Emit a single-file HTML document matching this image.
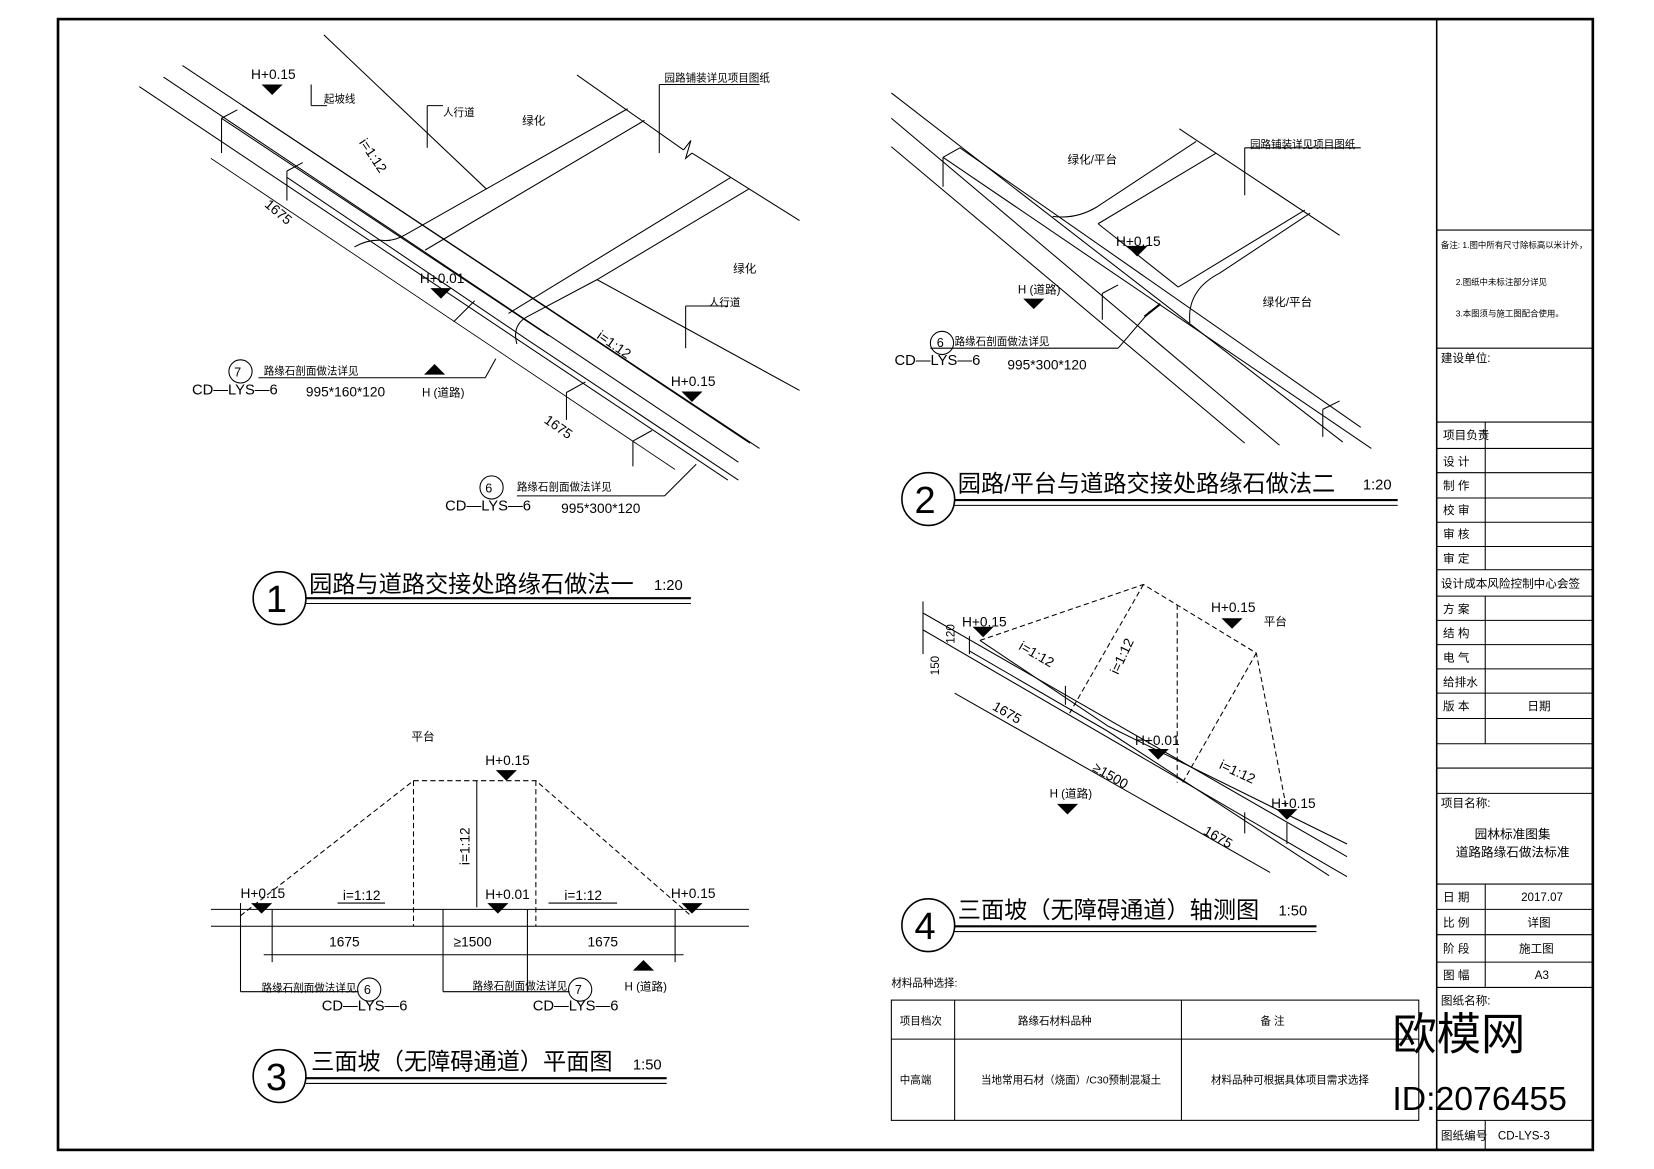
<!DOCTYPE html>
<html><head><meta charset="utf-8"><style>
html,body{margin:0;padding:0;background:#fff;}
svg{display:block}
text{font-family:"Liberation Sans","Noto Sans CJK SC",sans-serif;fill:#000}
</style></head><body>
<svg width="1654" height="1169" viewBox="0 0 1568 1108" xmlns="http://www.w3.org/2000/svg">
<rect x="0" y="0" width="1568" height="1108" fill="#fff"/>
<g stroke="#000" fill="none">
<rect x="55" y="18" width="1455" height="1072" stroke-width="2.5"/>
<line x1="1362" y1="18" x2="1362" y2="1090" stroke-width="1.5"/>
<line x1="1362" y1="218" x2="1510" y2="218"/>
<line x1="1362" y1="330" x2="1510" y2="330"/>
<g stroke-width="1">
<line x1="1362" y1="400" x2="1510" y2="400"/><line x1="1362" y1="425" x2="1510" y2="425"/>
<line x1="1362" y1="448" x2="1510" y2="448"/><line x1="1362" y1="472" x2="1510" y2="472"/>
<line x1="1362" y1="495" x2="1510" y2="495"/><line x1="1362" y1="518" x2="1510" y2="518"/>
<line x1="1362" y1="540" x2="1510" y2="540"/><line x1="1362" y1="565" x2="1510" y2="565"/>
<line x1="1362" y1="588" x2="1510" y2="588"/><line x1="1362" y1="611" x2="1510" y2="611"/>
<line x1="1362" y1="634" x2="1510" y2="634"/><line x1="1362" y1="657" x2="1510" y2="657"/>
<line x1="1362" y1="681" x2="1510" y2="681"/><line x1="1362" y1="705" x2="1510" y2="705"/>
<line x1="1362" y1="728" x2="1510" y2="728"/><line x1="1362" y1="752" x2="1510" y2="752"/>
<line x1="1362" y1="838" x2="1510" y2="838"/><line x1="1362" y1="862" x2="1510" y2="862"/>
<line x1="1362" y1="886" x2="1510" y2="886"/><line x1="1362" y1="912" x2="1510" y2="912"/>
<line x1="1362" y1="936" x2="1510" y2="936"/><line x1="1362" y1="1062" x2="1510" y2="1062"/>
<line x1="1408" y1="400" x2="1408" y2="540"/><line x1="1408" y1="565" x2="1408" y2="705"/>
<line x1="1408" y1="838" x2="1408" y2="936"/><line x1="1408" y1="1062" x2="1408" y2="1090"/>
</g>
<rect x="845" y="948" width="500" height="114"/>
<line x1="845" y1="985" x2="1345" y2="985"/>
<line x1="905" y1="948" x2="905" y2="1062"/>
<line x1="1120" y1="948" x2="1120" y2="1062"/>
</g>

<!-- Drawing 1 -->
<g stroke="#000" fill="none" stroke-width="1">
<line x1="132" y1="82" x2="690" y2="455"/>
<line x1="155" y1="73" x2="700" y2="438"/>
<line x1="173" y1="62" x2="711" y2="420"/>
<line x1="210" y1="112" x2="520" y2="318"/>
<line x1="230" y1="100" x2="720" y2="425"/>
<line x1="272" y1="168" x2="500" y2="322"/>
<line x1="500" y1="322" x2="700" y2="455"/>
<line x1="307" y1="33" x2="461" y2="179"/>
<line x1="547" y1="71" x2="648" y2="142"/><line x1="656" y1="145" x2="758" y2="209"/>
<polyline points="648,142 655,133 650,150 656,145"/>
<path d="M336 234 Q350 226 365 228 Q375 228 385 222 L461 179 L595 103"/>
<line x1="403" y1="237" x2="611" y2="114"/>
<path d="M482 297 L693 168"/>
<path d="M490 326 Q485 308 500 300 L566 265 L710 179"/>
<line x1="566" y1="265" x2="758" y2="370"/>
<line x1="210" y1="112" x2="210" y2="145"/><line x1="210" y1="112" x2="225" y2="104"/>
<line x1="272" y1="162" x2="272" y2="190"/><line x1="272" y1="162" x2="287" y2="154"/>
<line x1="537" y1="372" x2="537" y2="398"/><line x1="537" y1="372" x2="555" y2="362"/>
<line x1="600" y1="418" x2="600" y2="442"/><line x1="600" y1="418" x2="618" y2="408"/>
<line x1="200" y1="150" x2="640" y2="445" stroke-width="0.8"/>
<line x1="430" y1="305" x2="450" y2="285"/>
<line x1="405" y1="140" x2="405" y2="100"/><line x1="405" y1="100" x2="420" y2="100"/>
<line x1="650" y1="290" x2="690" y2="290"/><line x1="650" y1="290" x2="650" y2="330"/>
<line x1="295" y1="80" x2="295" y2="100"/><line x1="295" y1="100" x2="310" y2="100"/>
<line x1="625" y1="80" x2="625" y2="145"/><line x1="625" y1="80" x2="720" y2="80"/>
<line x1="245" y1="358" x2="460" y2="358"/><line x1="460" y1="358" x2="470" y2="340"/>
<line x1="490" y1="470" x2="630" y2="470"/><line x1="630" y1="470" x2="660" y2="440"/>
</g>
<g fill="#000">
<polygon points="248,80 268,80 258,90"/><polygon points="408,273 428,273 418,283"/>
<polygon points="646,371 666,371 656,381"/><polygon points="402,355 422,355 412,345"/>
</g>
<g stroke="#000" fill="none"><circle cx="228" cy="352" r="11"/><circle cx="466" cy="462" r="11"/></g>
<g font-size="13">
<text x="238" y="75">H+0.15</text><text x="307" y="97" font-size="10">起坡线</text>
<text x="420" y="110" font-size="10">人行道</text><text x="495" y="118" font-size="11">绿化</text>
<text x="630" y="77" font-size="10">园路铺装详见项目图纸</text>
<text x="695" y="258" font-size="11">绿化</text><text x="672" y="290" font-size="10">人行道</text>
<text x="398" y="268">H+0.01</text><text x="636" y="366">H+0.15</text>
<text x="250" y="355" font-size="10">路缘石剖面做法详见</text>
<text x="222" y="357" font-size="12">7</text>
<text x="182" y="374" font-size="14">CD—LYS—6</text><text x="290" y="376">995*160*120</text>
<text x="400" y="376" font-size="11">H (道路)</text>
<text x="490" y="465" font-size="10">路缘石剖面做法详见</text><text x="460" y="467" font-size="12">6</text>
<text x="422" y="484" font-size="14">CD—LYS—6</text><text x="532" y="486">995*300*120</text>
<text x="340" y="135" transform="rotate(56 340 135)">i=1:12</text>
<text x="565" y="320" transform="rotate(35 565 320)">i=1:12</text>
<text x="250" y="195" transform="rotate(40 250 195)">1675</text>
<text x="515" y="400" transform="rotate(35 515 400)">1675</text>
</g>
<circle cx="265" cy="567" r="25" stroke="#000" fill="none" stroke-width="1.5"/>
<text x="252" y="580" font-size="36">1</text>
<text x="293" y="561" font-size="22">园路与道路交接处路缘石做法一</text><text x="620" y="559" font-size="14">1:20</text>
<line x1="290" y1="567" x2="655" y2="567" stroke="#000" stroke-width="2"/><line x1="290" y1="572" x2="655" y2="572" stroke="#000"/>

<!-- Drawing 2 -->
<g stroke="#000" fill="none" stroke-width="1">
<line x1="845" y1="88" x2="1273" y2="419"/><line x1="845" y1="112" x2="1213" y2="422"/>
<line x1="845" y1="139" x2="1180" y2="420"/><line x1="894" y1="149" x2="1300" y2="425"/>
<line x1="910" y1="140" x2="1290" y2="405"/>
<path d="M998 205 Q1020 208 1040 196 L1134 134"/>
<line x1="1041" y1="212" x2="1153" y2="145"/>
<line x1="1041" y1="212" x2="1117" y2="272"/>
<line x1="1117" y1="272" x2="1237" y2="199"/>
<path d="M1128 306 Q1125 275 1156 259 L1242 202"/>
<line x1="1118" y1="122" x2="1270" y2="223"/>
<line x1="894" y1="149" x2="894" y2="177"/><line x1="894" y1="149" x2="910" y2="140"/>
<line x1="1045" y1="278" x2="1045" y2="303"/><line x1="1045" y1="278" x2="1060" y2="270"/>
<line x1="1085" y1="300" x2="1100" y2="288" stroke-width="2"/>
<line x1="1254" y1="388" x2="1254" y2="414"/><line x1="1254" y1="388" x2="1270" y2="380"/>
<line x1="1180" y1="140" x2="1180" y2="185"/><line x1="1180" y1="140" x2="1290" y2="140"/>
<line x1="882" y1="330" x2="1060" y2="330"/><line x1="1060" y1="330" x2="1090" y2="295"/>
</g>
<g fill="#000"><polygon points="970,283 990,283 980,293"/><polygon points="1068,233 1088,233 1078,243"/></g>
<circle cx="893" cy="325" r="11" stroke="#000" fill="none"/>
<g font-size="13">
<text x="1012" y="155" font-size="11">绿化/平台</text><text x="1185" y="140" font-size="10">园路铺装详见项目图纸</text>
<text x="1197" y="290" font-size="11">绿化/平台</text>
<text x="1058" y="233">H+0.15</text><text x="965" y="278" font-size="11">H (道路)</text>
<text x="888" y="329" font-size="12">6</text><text x="905" y="327" font-size="10">路缘石剖面做法详见</text>
<text x="848" y="346" font-size="14">CD—LYS—6</text><text x="955" y="350">995*300*120</text>
</g>
<circle cx="880" cy="473" r="25" stroke="#000" fill="none" stroke-width="1.5"/>
<text x="867" y="486" font-size="36">2</text>
<text x="908" y="466" font-size="22">园路/平台与道路交接处路缘石做法二</text><text x="1292" y="464" font-size="14">1:20</text>
<line x1="905" y1="474" x2="1325" y2="474" stroke="#000" stroke-width="2"/><line x1="905" y1="479" x2="1325" y2="479" stroke="#000"/>

<!-- Drawing 3 -->
<g stroke="#000" fill="none" stroke-width="1">
<line x1="200" y1="862" x2="710" y2="862"/><line x1="200" y1="878" x2="710" y2="878"/>
<line x1="228" y1="856" x2="228" y2="940"/><line x1="258" y1="862" x2="258" y2="912"/>
<line x1="640" y1="862" x2="640" y2="912"/><line x1="452" y1="740" x2="452" y2="860"/>
<line x1="420" y1="862" x2="420" y2="940"/><line x1="500" y1="862" x2="500" y2="940"/>
<line x1="250" y1="905" x2="648" y2="905"/>
<line x1="228" y1="940" x2="340" y2="940"/><line x1="420" y1="940" x2="540" y2="940"/>
<line x1="320" y1="856" x2="365" y2="856"/><line x1="520" y1="856" x2="585" y2="856"/>
<g stroke-dasharray="5,3"><polyline points="228,868 392,740 508,740 655,868"/>
<line x1="392" y1="740" x2="392" y2="878"/><line x1="508" y1="740" x2="508" y2="878"/></g>
</g>
<g fill="#000"><polygon points="238,856 258,856 248,866"/><polygon points="470,730 490,730 480,740"/>
<polygon points="462,856 482,856 472,866"/><polygon points="646,856 666,856 656,866"/><polygon points="600,920 620,920 610,910"/></g>
<g stroke="#000" fill="none"><circle cx="350" cy="938" r="11"/><circle cx="550" cy="938" r="11"/></g>
<g font-size="13">
<text x="390" y="702" font-size="11">平台</text><text x="460" y="725">H+0.15</text>
<text x="228" y="851">H+0.15</text><text x="460" y="852">H+0.01</text><text x="636" y="851">H+0.15</text>
<text x="325" y="853">i=1:12</text><text x="535" y="853">i=1:12</text>
<text x="445" y="820" transform="rotate(-90 445 820)">i=1:12</text>
<text x="312" y="897">1675</text><text x="430" y="897">≥1500</text><text x="557" y="897">1675</text>
<text x="248" y="940" font-size="10">路缘石剖面做法详见</text><text x="345" y="942" font-size="12">6</text>
<text x="305" y="958" font-size="14">CD—LYS—6</text>
<text x="448" y="938" font-size="10">路缘石剖面做法详见</text><text x="545" y="942" font-size="12">7</text>
<text x="505" y="958" font-size="14">CD—LYS—6</text><text x="592" y="939" font-size="11">H (道路)</text>
</g>
<circle cx="265" cy="1020" r="25" stroke="#000" fill="none" stroke-width="1.5"/>
<text x="252" y="1033" font-size="36">3</text>
<text x="295" y="1014" font-size="22">三面坡（无障碍通道）平面图</text><text x="600" y="1014" font-size="14">1:50</text>
<line x1="290" y1="1022" x2="632" y2="1022" stroke="#000" stroke-width="2"/><line x1="290" y1="1027" x2="632" y2="1027" stroke="#000"/>

<!-- Drawing 4 -->
<g stroke="#000" fill="none" stroke-width="1">
<line x1="875" y1="581" x2="1277" y2="812"/><line x1="875" y1="597" x2="1277" y2="831"/>
<line x1="929" y1="607" x2="1050" y2="688"/><line x1="1050" y1="688" x2="1277" y2="800"/>
<line x1="919" y1="617" x2="1050" y2="693"/><line x1="1050" y1="693" x2="1260" y2="830"/>
<line x1="919" y1="603" x2="919" y2="620"/><line x1="1010" y1="650" x2="1010" y2="668"/>
<line x1="1180" y1="770" x2="1180" y2="790"/><line x1="1220" y1="780" x2="1220" y2="800"/>
<line x1="905" y1="657" x2="1204" y2="827"/>
<line x1="875" y1="570" x2="875" y2="620"/>
<g stroke-dasharray="5,3"><polyline points="929,607 1084,554 1191,619 1220,768"/>
<line x1="1084" y1="554" x2="1014" y2="676"/><line x1="1116" y1="573" x2="1116" y2="742"/>
<line x1="1191" y1="619" x2="1121" y2="742"/></g>
</g>
<g fill="#000"><polygon points="922,594 942,594 932,604"/><polygon points="1158,586 1178,586 1168,596"/>
<polygon points="1088,710 1108,710 1098,720"/><polygon points="1002,762 1022,762 1012,772"/><polygon points="1210,767 1230,767 1220,777"/></g>
<g font-size="13">
<text x="912" y="594">H+0.15</text><text x="1148" y="580">H+0.15</text><text x="1198" y="593" font-size="11">平台</text>
<text x="1076" y="706">H+0.01</text><text x="995" y="756" font-size="11">H (道路)</text><text x="1205" y="766">H+0.15</text>
<text x="965" y="615" transform="rotate(30 965 615)">i=1:12</text>
<text x="1060" y="640" transform="rotate(-65 1060 640)">i=1:12</text>
<text x="1155" y="728" transform="rotate(25 1155 728)">i=1:12</text>
<text x="940" y="672" transform="rotate(30 940 672)">1675</text>
<text x="1035" y="730" transform="rotate(30 1035 730)">≥1500</text>
<text x="1140" y="790" transform="rotate(30 1140 790)">1675</text>
<text x="890" y="640" transform="rotate(-90 890 640)" font-size="11">150</text>
<text x="905" y="610" transform="rotate(-90 905 610)" font-size="11">120</text>
</g>
<circle cx="880" cy="877" r="25" stroke="#000" fill="none" stroke-width="1.5"/>
<text x="867" y="890" font-size="36">4</text>
<text x="908" y="870" font-size="22">三面坡（无障碍通道）轴测图</text><text x="1212" y="868" font-size="14">1:50</text>
<line x1="905" y1="878" x2="1248" y2="878" stroke="#000" stroke-width="2"/><line x1="905" y1="883" x2="1248" y2="883" stroke="#000"/>

<g font-size="10">
<text x="845" y="935">材料品种选择:</text>
<text x="853" y="971">项目档次</text><text x="965" y="971">路缘石材料品种</text><text x="1195" y="971">备 注</text>
<text x="853" y="1027">中高端</text><text x="930" y="1027">当地常用石材（烧面）/C30预制混凝土</text>
<text x="1148" y="1027">材料品种可根据具体项目需求选择</text>
</g>
<g font-size="11">
<text x="1366" y="235" font-size="8">备注: 1.图中所有尺寸除标高以米计外，</text>
<text x="1380" y="270" font-size="8">2.图纸中未标注部分详见</text>
<text x="1380" y="300" font-size="8">3.本图须与施工图配合使用。</text>
<text x="1366" y="343">建设单位:</text>
<text x="1368" y="416">项目负责</text><text x="1368" y="441">设 计</text><text x="1368" y="464">制 作</text>
<text x="1368" y="487">校 审</text><text x="1368" y="510">审 核</text><text x="1368" y="533">审 定</text>
<text x="1366" y="557">设计成本风险控制中心会签</text>
<text x="1368" y="581">方 案</text><text x="1368" y="604">结 构</text><text x="1368" y="627">电 气</text>
<text x="1368" y="650">给排水</text><text x="1368" y="673">版 本</text><text x="1448" y="673">日期</text>
<text x="1366" y="765">项目名称:</text>
<text x="1398" y="795" font-size="12">园林标准图集</text><text x="1380" y="812" font-size="12">道路路缘石做法标准</text>
<text x="1368" y="854">日 期</text><text x="1442" y="854">2017.07</text>
<text x="1368" y="878">比 例</text><text x="1448" y="878">详图</text>
<text x="1368" y="903">阶 段</text><text x="1440" y="903">施工图</text>
<text x="1368" y="928">图 幅</text><text x="1455" y="928">A3</text>
<text x="1366" y="952">图纸名称:</text>
<text x="1366" y="1080">图纸编号</text><text x="1420" y="1080">CD-LYS-3</text>
</g>
<text x="1320" y="995" font-size="42" fill="#555">欧模网</text>
<text x="1320" y="1052" font-size="32" fill="#555">ID:2076455</text>
</svg>
</body></html>
